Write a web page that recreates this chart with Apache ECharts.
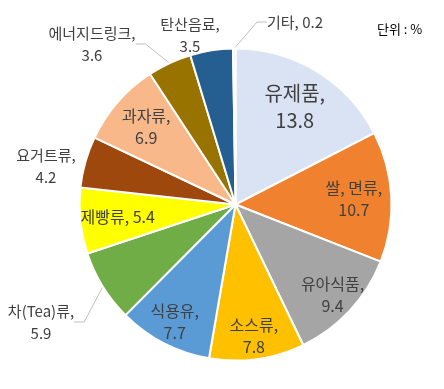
<!DOCTYPE html>
<html><head><meta charset="utf-8">
<script src="https://cdn.jsdelivr.net/npm/echarts@6/dist/echarts.min.js"></script>
<style>html,body{margin:0;padding:0;background:#fff}#c{width:444px;height:389px}</style>
</head><body><div id="c"></div>
<script>
const categories = ['유제품','쌀, 면류','유아식품','소스류','식용유','차(Tea)류','제빵류','요거트류','과자류','에너지드링크','탄산음료','기타'];
const values = [13.8, 10.7, 9.4, 7.8, 7.7, 5.9, 5.4, 4.2, 6.9, 3.6, 3.5, 0.2];
const colors = ['#DAE3F3','#F0812E','#A5A5A5','#FFC000','#5B9BD5','#70AD47','#FFFF00','#9E480E','#F8B88A','#997300','#255E91','#E7E6E6'];
const outside = ['차(Tea)류','요거트류','에너지드링크','탄산음료','기타'];
const withLine = ['차(Tea)류','에너지드링크','기타'];
const unitText = '단위 : %';

const FONT = '"Noto Sans CJK KR",sans-serif';
const cx = 235.5, cy = 204.5, R = 156;

// inside label radial placement (fraction of radius) by group
const labelGroups = [
  {frac:0.71, names:['유제품']},
  {frac:0.74, names:['쌀, 면류','제빵류','과자류']},
  {frac:0.83, names:['유아식품','소스류','식용유']}
];

function labelText(name, v){
  if (name === '기타' || name === '제빵류') return name + ', ' + v;
  return name + ',\n' + v;
}

const mainData = categories.map((n,i)=>({
  name:n, value:values[i],
  itemStyle:{color:colors[i]},
  label: outside.includes(n) ? {show:true, position:'outside'} : {show:false},
  labelLine: {show: withLine.includes(n)}
}));

// outside label anchor points (label placement)
const outPos = {
  '기타':[267,22,'left'],
  '탄산음료':[190,35,'center'],
  '에너지드링크':[92,44,'center'],
  '요거트류':[46,166,'center'],
  '차(Tea)류':[41,322,'center']
};

const labelSeries = labelGroups.map(g=>{
  const inner = (2*g.frac - 1) * R;
  return {
    type:'pie', center:[cx,cy], radius:[inner,R], startAngle:90, clockwise:true,
    itemStyle:{color:'rgba(0,0,0,0)'},
    label:{position:'inside', formatter:p=>labelText(p.name,p.value), color:'#404040', fontSize:16, lineHeight:22, fontFamily:FONT},
    labelLine:{show:false},
    data: categories.map((n,i)=>({
      name:n, value:values[i],
      label: g.names.includes(n) ? {show:true, fontSize: n==='유제품'?20:16, lineHeight: n==='유제품'?27:22} : {show:false}
    })),
    silent:true, z:2
  };
});

const chart = echarts.init(document.getElementById('c'));
chart.setOption({
  animation:false,
  graphic:[{type:'text', left:377, top:23, style:{text:unitText, fill:'#000', font:'13px '+FONT}}],
  series:[
    {
      type:'pie', center:[cx,cy], radius:[0,R], startAngle:90, clockwise:true,
      avoidLabelOverlap:false,
      itemStyle:{borderColor:'#fff', borderWidth:2},
      label:{formatter:p=>labelText(p.name,p.value), color:'#404040', fontSize:15, lineHeight:22, fontFamily:FONT, align:'center'},
      labelLine:{length:10, length2:10, lineStyle:{color:'#BFBFBF', width:1}},
      labelLayout: function(p){
        const n = categories[p.dataIndex];
        const o = outPos[n];
        if (!o) return {};
        const h = p.labelRect.height;
        return {x: o[0], y: o[1]-h/2, align:o[2], verticalAlign:'top'};
      },
      data: mainData, silent:true, z:1
    }
  ].concat(labelSeries)
});
</script></body></html>
